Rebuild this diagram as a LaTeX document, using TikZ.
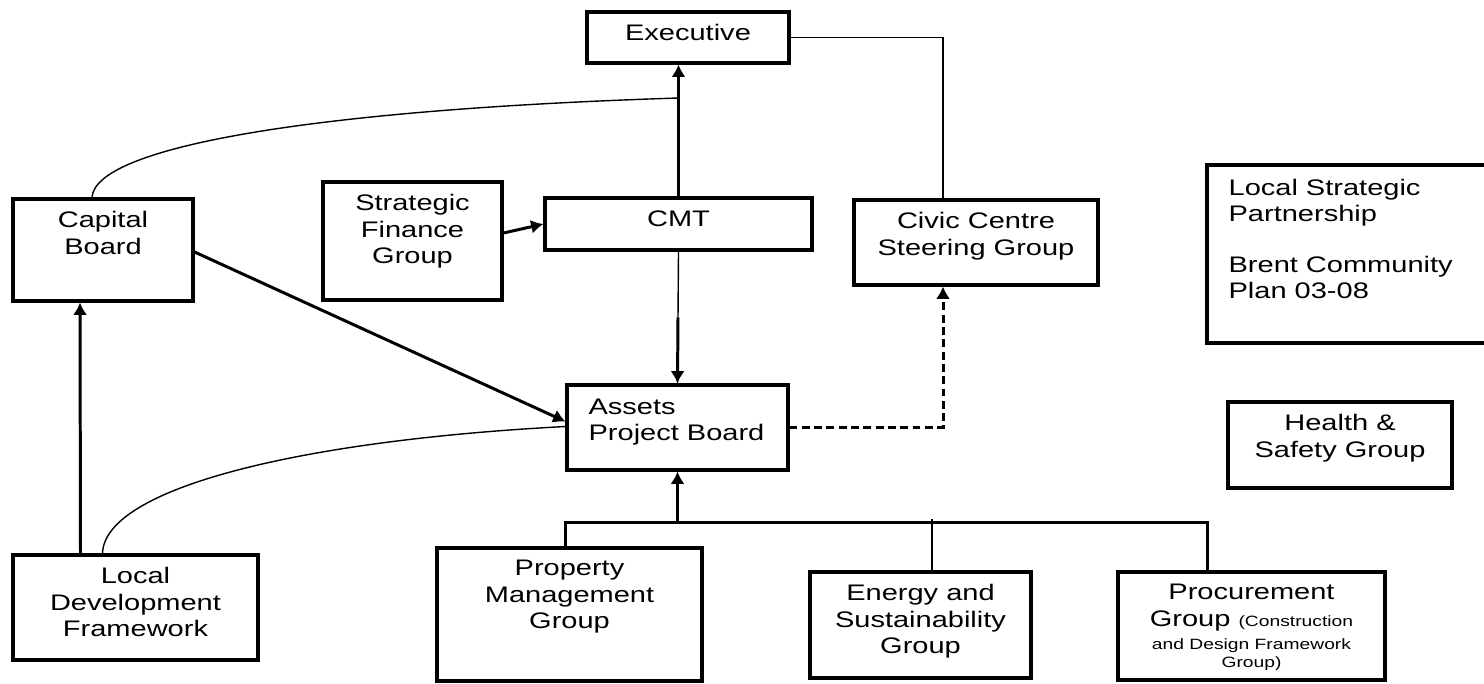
\documentclass[tikz,border=0pt]{standalone}
\usepackage{fontspec}
\setmainfont{Liberation Sans}[FakeStretch=1.29]
\usepackage{tikz}
\usetikzlibrary{arrows.meta,positioning,fit,calc}

\newcommand{\smallnote}{\fontsize{8.5}{10.4}\selectfont}

\begin{document}
\begin{tikzpicture}[
        x=0.02cm,y=-0.02cm,
        box/.style={rectangle,draw,line width=1.8pt,inner sep=0pt},
        txt/.style={font=\fontsize{12.8}{15}\selectfont,align=center,inner sep=0pt},
        boxtitle/.style={label={[txt,anchor=north,yshift=-7.8pt]north:#1}},
        boxltitle/.style={label={[txt,align=left,anchor=north west,xshift=13pt,yshift=-8.5pt]north west:#1}},
        arrow/.style={-{Latex[length=7pt,width=8pt]},line width=1.7pt},
        thickline/.style={line width=1.7pt},
        link/.style={line width=0.8pt},
        dashlink/.style={-{Latex[length=7pt,width=8pt]},line width=1.7pt,dash pattern=on 4.5pt off 2.5pt},
    ]
    \useasboundingbox (0,0) rectangle (1484,683);

    % === TOP: Executive, CMT and its neighbours ===
    \node[box,fit={(587,12) (789,63)},boxtitle={Executive}] (exec) {};
    \node[box,fit={(13,199) (193,301)},boxtitle={Capital\\Board}] (capital) {};
    \node[box,fit={(323,182) (502,300)},boxtitle={Strategic\\Finance\\Group}] (sfg) {};
    \node[box,fit={(545,198) (812,250)},boxtitle={CMT}] (cmt) {};
    \node[box,fit={(854,200) (1098,285)},boxtitle={Civic Centre\\Steering Group}] (civic) {};
    \node[box,fit={(1207,165) (1500,343)},boxltitle={Local Strategic\\Partnership\\[14pt]Brent Community\\Plan 03-08}] (lsp) {};
    \node[box,fit={(1228,402) (1452,488)},boxtitle={Health \&\\Safety Group}] (hsg) {};

    % === MIDDLE: Assets Project Board ===
    \node[box,fit={(567,385) (788,470)},boxltitle={Assets\\Project Board}] (apb) {};

    % === BOTTOM: groups feeding the board ===
    \node[box,fit={(13,555) (258,660)},boxtitle={Local\\Development\\Framework}] (ldf) {};
    \node[box,fit={(437,548) (702,681)},boxtitle={Property\\Management\\Group}] (pmg) {};
    \node[box,fit={(810,572) (1031,678)},boxtitle={Energy and\\Sustainability\\Group}] (esg) {};
    \node[box,fit={(1118,572) (1385,680)},boxtitle={Procurement\\Group {\smallnote(Construction}\\[-2pt]{\smallnote and Design Framework}\\[-4.6pt]{\smallnote Group)}}] (pg) {};

    % links to the Executive
    \draw[arrow] (cmt.north) -- (cmt.north |- exec.south);
    \coordinate (capjoin) at (cmt.north |- 0,98);
    \draw[link] ($(capital.north)+(-11,0)$) .. controls +(3,-49) and +(-377,12) .. (capjoin);
    \draw[link] (exec.east) -| ($(civic.north)+(-33,0)$);

    % links around CMT
    \draw[arrow] ($(sfg.east)+(0,-8)$) -- (cmt.west);
    \draw[link] (cmt.south) -- (apb.north);
    \draw[arrow] ($(cmt.south)!0.5!(apb.north)$) -- (apb.north);

    % left side
    \draw[arrow] ($(capital.east)+(0,2)$) -- ($(apb.west)+(0,-6)$);
    \draw[arrow] ($(ldf.north)+(-55,0)$) -- ($(capital.south)+(-23,0)$);
    \draw[link] ($(ldf.north)+(-33,0)$) .. controls +(2,-65) and +(-267,14) .. ($(apb.west)+(0,-1)$);

    % dashed link to the steering group
    \draw[dashlink] (apb.east) -| ($(civic.south)+(-33,0)$);

    % bus under the board
    \coordinate (bus) at ($(apb.south)+(0,51)$);
    \draw[arrow] (bus) -- (apb.south);
    \draw[thickline] ($(pmg.north)+(-4,0)$) |- (bus) -| ($(pg.north)+(-44,0)$);
    \draw[link] ($(esg.north)+(11.5,0)$) -- ++(0,-51);
\end{tikzpicture}
\end{document}
